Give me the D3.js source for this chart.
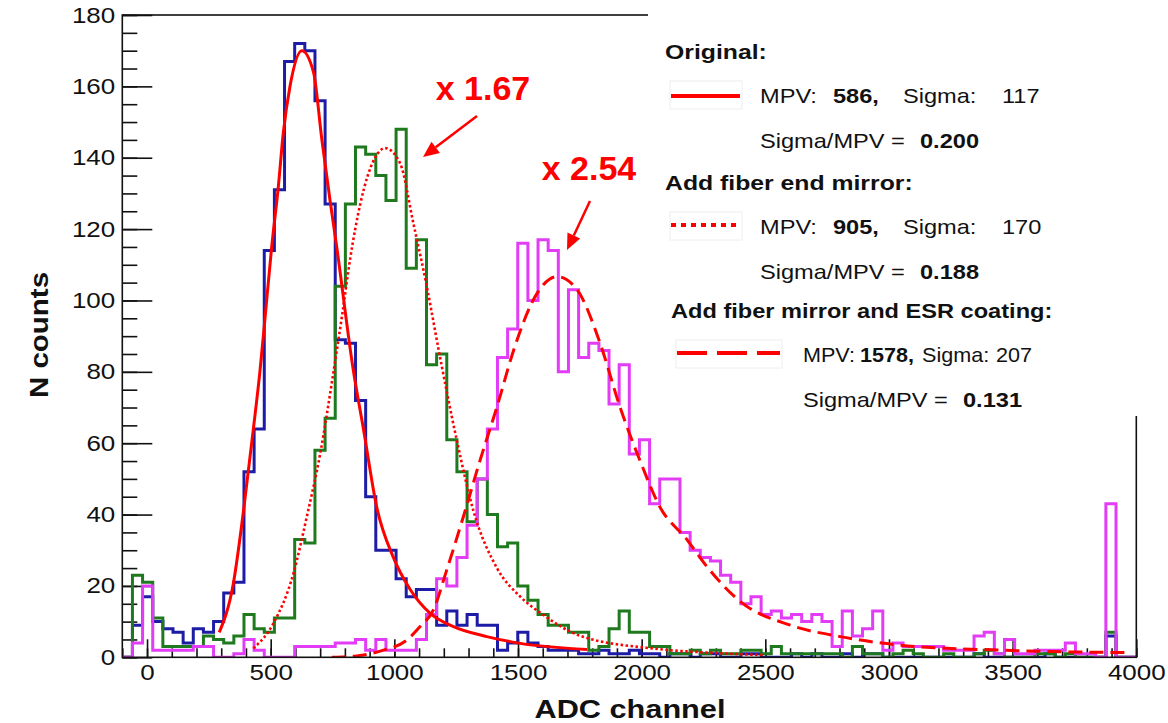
<!DOCTYPE html>
<html>
<head>
<meta charset="utf-8">
<script src="https://cdn.jsdelivr.net/npm/d3@7"></script>
<style>
  body { margin: 0; background: #fff; }
  text { font-family: "Liberation Sans", Arial, Helvetica, sans-serif; }
</style>
</head>
<body>
<div id="chart"></div>
<script>
// Histogram binning: 100 bins of 41 ADC channels starting at -100
var binStart = -100;
var binWidth = 41;

// Counts per bin
var countsOriginal = [0,9,17,10,8,7,4,8,7,10, 18,21,52,64,114,131,167,172,170,156,
  127,89,88,72,45,30,30,22,17,19, 19,9,13,9,12,9,9,2,4,7,
  4,3,2,2,2,1,1,2,1,1, 2,1,1,0,1,1,0,1,1,0,
  0,1,1,0,0,0,1,0,1,0, 0,1,0,1,1,0,0,0,0,0,
  0,0,0,0,1,0,0,0,0,0, 0,1,0,0,0,0,0,6,0,0];
var countsMirror = [0,23,21,11,3,3,3,3,6,5, 4,6,12,8,7,11,11,33,32,58,
  67,104,127,143,141,135,128,148,109,117, 82,85,61,52,38,50,40,31,32,20,
  16,12,9,9,7,7,2,3,8,13, 7,7,3,3,1,1,2,1,2,1,
  1,2,2,1,3,1,1,1,1,1, 1,0,3,1,1,0,1,2,1,0,
  0,1,0,0,1,2,1,0,0,0, 1,1,0,1,0,0,0,7,0,0];
var countsESR = [0,4,20,2,2,2,2,3,3,0, 0,1,5,2,0,0,0,3,3,3,
  3,4,4,5,2,5,2,2,2,5, 12,22,20,28,37,50,64,84,92,116,
  100,117,114,80,103,84,88,86,71,82, 57,61,43,50,50,35,30,28,27,23,
  21,15,17,12,13,11,12,10,12,10, 3,13,6,8,13,2,4,3,3,3,
  3,2,2,2,6,7,1,5,1,1, 2,2,2,4,1,1,0,43,0,0];

// Fit curves, sampled points [ADC, counts]
var fitOriginal = [[292,7],[349,20.7],[390,41],[430,64],[457,80.5],[473,92],[504,115],[531,132],
  [551,147],[578,160],[626,170],[673,164],[707,145],[740,128],[767,115],[835,80],[875,64],
  [929,42],[996,28],[1064,19],[1145,12.3],[1239,8.6],[1374,5.8],[1509,3.9],[1779,2.2]];
var fitMirror = [[430,2.5],[511,9.5],[592,23.5],[646,39.4],[700,57],[754,80],[788,95.5],[822,112],
  [862,127],[922,140],[963,142.7],[1023,138.5],[1077,121.6],[1131,104],[1185,84],[1252,61],
  [1320,41],[1415,25],[1509,17],[1600,12],[1752,6],[2055,2.4],[2300,1.2],[2500,0.6]];
var fitESR = [[747,0],[848,0.4],[956,2],[1050,4.8],[1104,8.6],[1158,13.3],[1212,24.5],[1279,39.4],
  [1347,55.3],[1415,70.2],[1482,86],[1577,102],[1658,106.7],[1739,103],[1832,88],[1913,70],
  [1994,55],[2075,42],[2183,33],[2264,25.4],[2399,15.6],[2601,9],[2803,5.8],[3046,3.4],
  [3451,2],[3977,1.3]];

var xTicks = d3.range(0, 4001, 500);
var yTicks = d3.range(0, 181, 20);

var legendRows = [
  {title: "Original:", mpv: "586,", sigma: "117", ratio: "0.200", dash: null},
  {title: "Add fiber end mirror:", mpv: "905,", sigma: "170", ratio: "0.188", dash: "5,5"},
  {title: "Add fiber mirror and ESR coating:", mpv: "1578,", sigma: "207", ratio: "0.131", dash: "30,10"}
];

var fullWidth = 1168;
var fullHeight = 723;
var plot = {left: 122.3, right: 1136.3, top: 15, bottom: 657.3};
var stretch = 1.18;

var svg = d3.select('#chart').append('svg')
  .attr('width', fullWidth)
  .attr('height', fullHeight);

var x = d3.scaleLinear().domain([-100, 4000]).range([plot.left, plot.right]);
var y = d3.scaleLinear().domain([0, 180]).range([plot.bottom, plot.top]);

svg.append('clipPath').attr('id', 'clip')
  .append('rect')
    .attr('x', plot.left).attr('y', plot.top - 2)
    .attr('width', plot.right - plot.left).attr('height', plot.bottom - plot.top + 2);

// axes: minor ticks first, then major
function styleAxis(g) {
  g.select('.domain').remove();
  g.selectAll('line').attr('stroke', '#111').attr('stroke-width', 1.6);
}

svg.append('g')
  .attr('transform', 'translate(0,' + plot.bottom + ')')
  .call(d3.axisBottom(x).tickValues(d3.range(-100, 4001, 100)).tickSize(-9).tickFormat(''))
  .call(styleAxis);

svg.append('g')
  .attr('transform', 'translate(0,' + plot.bottom + ')')
  .call(d3.axisBottom(x).tickValues(xTicks).tickSize(-18).tickPadding(7).tickFormat(d3.format('d')))
  .call(styleAxis)
  .selectAll('text')
    .attr('fill', '#111')
    .attr('font-size', 22)
    .attr('transform', 'scale(' + stretch + ',1)');

svg.append('g')
  .attr('transform', 'translate(' + plot.left + ',0)')
  .call(d3.axisLeft(y).tickValues(d3.range(0, 181, 5)).tickSize(-15).tickFormat(''))
  .call(styleAxis);

svg.append('g')
  .attr('transform', 'translate(' + plot.left + ',0)')
  .call(d3.axisLeft(y).tickValues(yTicks).tickSize(-30).tickPadding(6).tickFormat(d3.format('d')))
  .call(styleAxis)
  .selectAll('text')
    .attr('fill', '#111')
    .attr('font-size', 22)
    .attr('transform', 'scale(' + stretch + ',1)');

// histograms
var edges = d3.range(countsOriginal.length + 1).map(function(k) { return binStart + k * binWidth; });

function stepPoints(counts) {
  var pts = [[edges[0], 0]];
  counts.forEach(function(c, i) {
    pts.push([edges[i], c]);
    pts.push([edges[i + 1], c]);
  });
  pts.push([edges[counts.length], 0]);
  return pts;
}

var stepLine = d3.line()
  .x(function(d) { return x(d[0]); })
  .y(function(d) { return y(d[1]); });

var plotArea = svg.append('g').attr('clip-path', 'url(#clip)');

var histos = [
  {counts: countsOriginal, color: '#1c1ca6'},
  {counts: countsMirror, color: '#1f7a1f'},
  {counts: countsESR, color: '#e23cf6'}
];

histos.forEach(function(h) {
  plotArea.append('path')
    .attr('d', stepLine(stepPoints(h.counts)))
    .attr('fill', 'none')
    .attr('stroke', h.color)
    .attr('stroke-width', 3);
});

// fits
var fitLine = d3.line()
  .x(function(d) { return x(d[0]); })
  .y(function(d) { return y(d[1]); })
  .curve(d3.curveMonotoneX);

[[fitOriginal, null, 3], [fitMirror, '2.5,2.5', 2.6], [fitESR, '14,7', 3]].forEach(function(f) {
  plotArea.append('path')
    .attr('d', fitLine(f[0]))
    .attr('fill', 'none')
    .attr('stroke', '#ff0000')
    .attr('stroke-width', f[2])
    .attr('stroke-dasharray', f[1]);
});

// frame
svg.append('rect')
  .attr('x', plot.left).attr('y', plot.top)
  .attr('width', plot.right - plot.left).attr('height', plot.bottom - plot.top)
  .attr('fill', 'none')
  .attr('stroke', '#111')
  .attr('stroke-width', 1.6);

// legend pane
svg.append('rect')
  .attr('x', 648).attr('y', 0)
  .attr('width', fullWidth - 648).attr('height', 416)
  .attr('fill', '#fff');

function label(px, py, str, size, weight, fill, anchor, rotate, sx) {
  var g = svg.append('g')
    .attr('transform', 'translate(' + px + ',' + py + ')' + (rotate ? ' rotate(-90)' : '') +
      ' scale(' + (sx || stretch) + ',1)');
  g.append('text')
    .attr('font-size', size)
    .attr('font-weight', weight || 'normal')
    .attr('fill', fill || '#111')
    .attr('text-anchor', anchor || 'start')
    .text(str);
}

// per-row layout of the legend pane
var rowTop = [59, 190, 318];
var titleX = [665, 665, 671];
var titleSize = [21, 21, 20];
var textX = [760, 760, 803];
var mpvValX = [833, 833, 860];
var sigmaX = [903, 903, 922];
var sigmaValX = [1002, 1002, 996];
var mpvStretch = [stretch, stretch, 1.08];
var ratioValX = [920, 920, 963];
var sampleX = [[670, 742], [670, 742], [676, 782]];

legendRows.forEach(function(r, i) {
  var top = rowTop[i];
  label(titleX[i], top, r.title, titleSize[i], 'bold');
  var sx0 = sampleX[i][0];
  var sx1 = sampleX[i][1];
  var ly = top + (i == 0 ? 37 : 35);
  svg.append('rect')
    .attr('x', sx0).attr('y', top + 22).attr('width', sx1 - sx0).attr('height', 28)
    .attr('fill', 'none').attr('stroke', '#eeeeee');
  svg.append('line')
    .attr('x1', sx0 + 1).attr('x2', sx1 - 2)
    .attr('y1', ly).attr('y2', ly)
    .attr('stroke', '#ff0000')
    .attr('stroke-width', 4)
    .attr('stroke-dasharray', r.dash);
  var s = mpvStretch[i];
  label(textX[i], top + 44, 'MPV:', 20, 'normal', '#111', 'start', false, s);
  label(mpvValX[i], top + 44, r.mpv, 20, 'bold', '#111', 'start', false, s);
  label(sigmaX[i], top + 44, 'Sigma:', 20, 'normal', '#111', 'start', false, s);
  label(sigmaValX[i], top + 44, r.sigma, 20, 'normal', '#111', 'start', false, s);
  label(textX[i], top + 89, 'Sigma/MPV =', 20);
  label(ratioValX[i], top + 89, r.ratio, 20, 'bold');
});

// axis titles
label(630, 718, 'ADC channel', 26, 'bold', '#111', 'middle');
label(48, 335, 'N counts', 25, 'bold', '#111', 'middle', true);

// scale annotations
function annotate(tx, ty, str, ax0, ay0, ax1, ay1) {
  svg.append('text')
    .attr('x', tx).attr('y', ty)
    .attr('font-family', 'Lato, "Open Sans", sans-serif')
    .attr('font-weight', 'bold')
    .attr('font-size', 34)
    .attr('fill', '#ff0000')
    .attr('text-anchor', 'middle')
    .text(str);
  var ang = Math.atan2(ay1 - ay0, ax1 - ax0);
  var hl = 16, hw = 7;
  var bx = ax1 - hl * Math.cos(ang), by = ay1 - hl * Math.sin(ang);
  svg.append('line')
    .attr('x1', ax0).attr('y1', ay0).attr('x2', bx).attr('y2', by)
    .attr('stroke', '#ff0000').attr('stroke-width', 2.5);
  svg.append('path')
    .attr('d', 'M' + ax1 + ',' + ay1 +
      'L' + (bx + hw * Math.sin(ang)) + ',' + (by - hw * Math.cos(ang)) +
      'L' + (bx - hw * Math.sin(ang)) + ',' + (by + hw * Math.cos(ang)) + 'Z')
    .attr('fill', '#ff0000');
}
annotate(483, 100, 'x 1.67', 477, 116, 423, 157);
annotate(589, 180, 'x 2.54', 590, 201, 567, 250);
</script>
</body>
</html>
